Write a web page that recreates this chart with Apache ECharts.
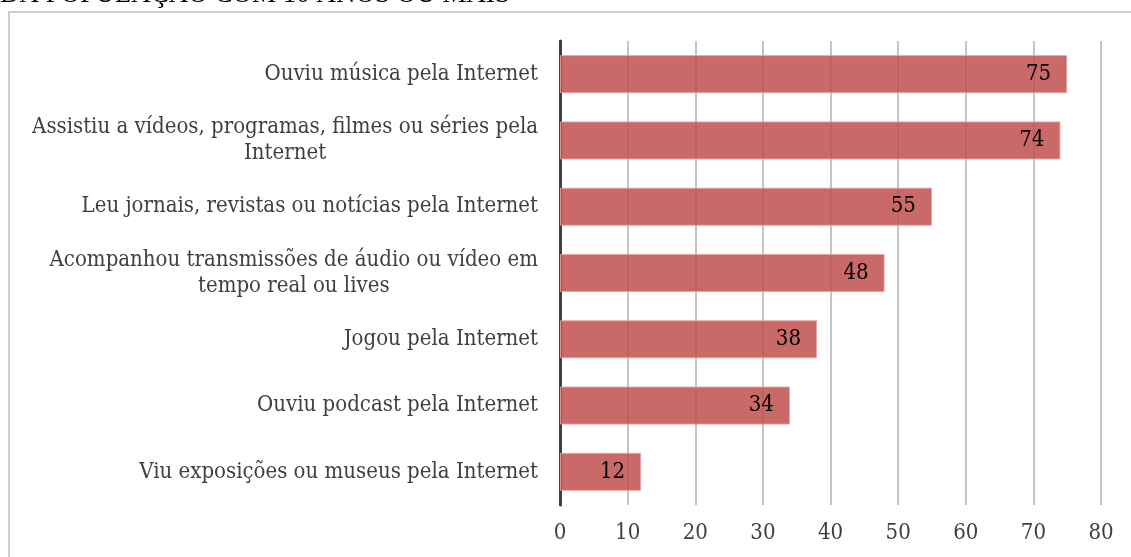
<!DOCTYPE html>
<html>
<head>
<meta charset="utf-8">
<script src="https://cdn.jsdelivr.net/npm/echarts@6/dist/echarts.min.js"></script>
<style>
  html, body { margin: 0; padding: 0; background: #fff; }
  #chart { width: 1131px; height: 557px; }
</style>
</head>
<body>
<div id="chart"></div>
<script>
const categories = [
  "Ouviu música pela Internet",
  "Assistiu a vídeos, programas, filmes ou séries pela\nInternet",
  "Leu jornais, revistas ou notícias pela Internet",
  "Acompanhou transmissões de áudio ou vídeo em\ntempo real ou lives",
  "Jogou pela Internet",
  "Ouviu podcast pela Internet",
  "Viu exposições ou museus pela Internet"
];
const values = [75, 74, 55, 48, 38, 34, 12];
const xTicks = { min: 0, max: 80, interval: 10 };
const titleText = "DA POPULAÇÃO COM 10 ANOS OU MAIS";

const FONT = '"DejaVu Serif Condensed", "Liberation Serif", serif';
const chart = echarts.init(document.getElementById("chart"), null, { renderer: "canvas" });

chart.setOption({
  animation: false,
  backgroundColor: "#fff",
  graphic: [
    {
      type: "rect",
      shape: { x: 9, y: 12, width: 1200, height: 700 },
      style: { fill: "none", stroke: "#bfbfbf", lineWidth: 1.5 },
      silent: true
    },
    {
      type: "text",
      x: 0,
      y: 8,
      style: {
        text: titleText,
        font: '27px "Liberation Serif", serif',
        fill: "#000",
        textVerticalAlign: "bottom"
      }
    }
  ],
  grid: { left: 560, right: 30, top: 41, bottom: 52 },
  xAxis: {
    type: "value",
    min: xTicks.min,
    max: xTicks.max,
    interval: xTicks.interval,
    axisLine: { show: false },
    axisTick: { show: false },
    axisLabel: { color: "#404040", fontFamily: FONT, fontSize: 22, margin: 17 },
    splitLine: { lineStyle: { color: "#b0b0b0", width: 1.5 } }
  },
  yAxis: {
    type: "category",
    inverse: true,
    data: categories,
    axisLine: { lineStyle: { color: "#404040", width: 3 } },
    axisTick: { show: false },
    axisLabel: {
      margin: 22,
      color: "#404040",
      fontFamily: FONT,
      fontSize: 22,
      lineHeight: 26,
      formatter: (v) => v.split("\n").map((l) => `{c|${l}}`).join("\n"),
      rich: { c: { align: "center", fontFamily: FONT, fontSize: 22, lineHeight: 26, color: "#404040" } }
    }
  },
  series: [
    {
      type: "bar",
      data: values,
      barWidth: 38,
      itemStyle: {
        color: "rgba(192, 80, 77, 0.85)",
        borderColor: "rgba(230, 160, 160, 0.9)",
        borderWidth: 1
      },
      label: {
        show: true,
        position: "insideRight",
        distance: 16,
        color: "#000",
        fontFamily: FONT,
        fontSize: 22
      }
    }
  ]
});
</script>
</body>
</html>
